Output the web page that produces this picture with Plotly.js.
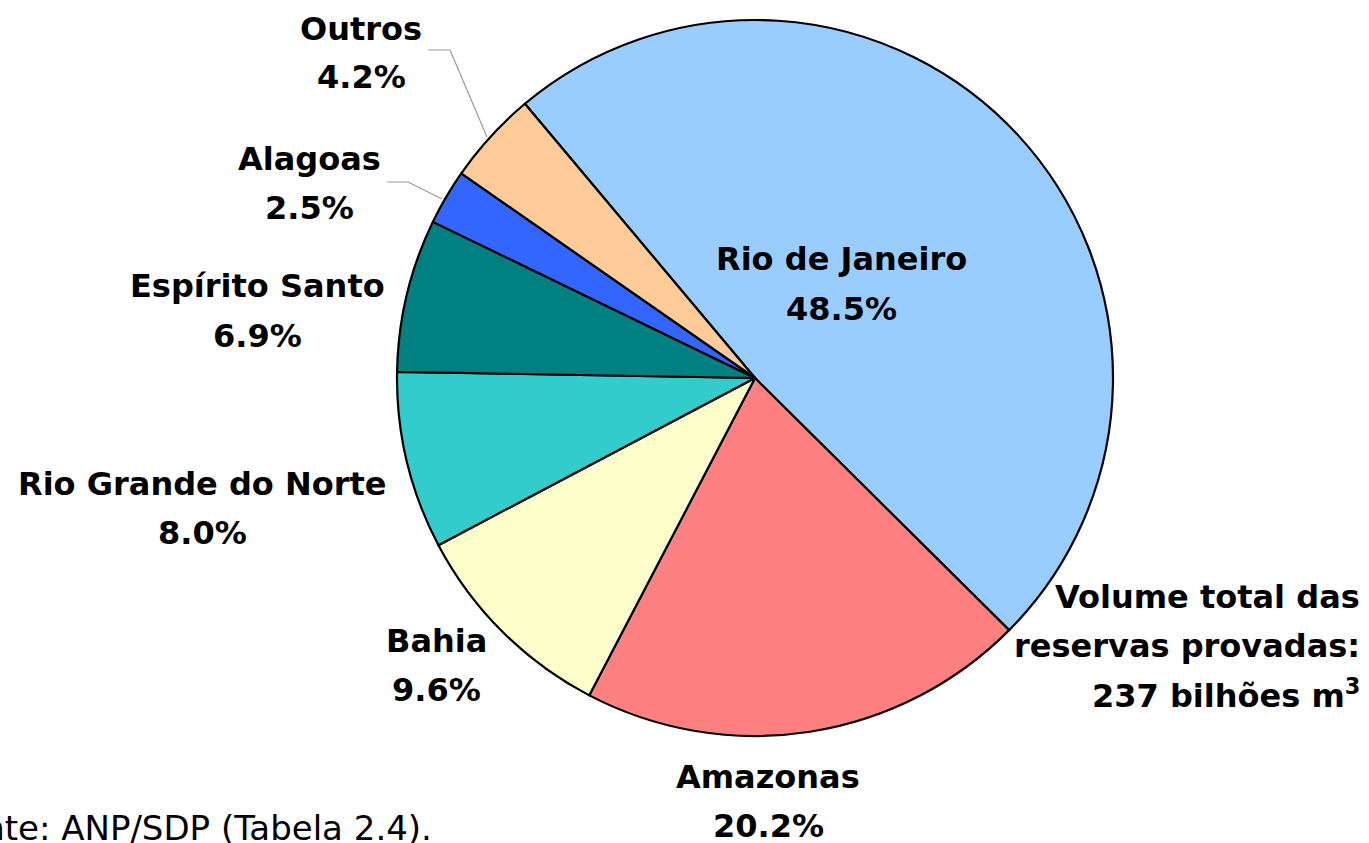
<!DOCTYPE html>
<html><head><meta charset="utf-8">
<script src="https://cdn.plot.ly/plotly-3.0.1.min.js"></script>
<style>html,body{margin:0;padding:0;background:#fff}#chart{width:1369px;height:843px}</style>
</head><body><div id="chart"></div>
<script>
const states = ["Rio de Janeiro","Amazonas","Bahia","Rio Grande do Norte","Espírito Santo","Alagoas","Outros"];
const shares = [48.5, 20.2, 9.6, 8.0, 6.9, 2.5, 4.2];
const colors = ["#99CCFF","#FF8080","#FFFFCC","#33CCCC","#008080","#3366FF","#FFCC99"];
const totalLines = ["Volume total das","reservas provadas:","237 bilhões m<sup>3</sup>"];
const sourceText = "Fonte: ANP/SDP (Tabela 2.4).";

const W = 1369, H = 843;
const px = x => x / W, py = y => 1 - y / H;
const cx = 755, cy = 378, r = 358;

// label block centres (pixels) for each slice
const labelPos = [[841,284],[768,801],[436,665],[202,508],[257,311],[309,183],[361,53]];
const FONT = "DejaVu Sans, sans-serif";
const annotations = [];
states.forEach((s,i)=>{
  const [x,y] = labelPos[i];
  annotations.push({xref:'paper',yref:'paper',x:px(x),y:py(y-24.5),text:'<b>'+s+'</b>',showarrow:false,
    xanchor:'center',yanchor:'middle',font:{family:FONT,size:32,color:'#000'}});
  annotations.push({xref:'paper',yref:'paper',x:px(x),y:py(y+24.5),text:'<b>'+shares[i].toFixed(1)+'%</b>',showarrow:false,
    xanchor:'center',yanchor:'middle',font:{family:FONT,size:32,color:'#000'}});
});
totalLines.forEach((t,i)=>{
  annotations.push({xref:'paper',yref:'paper',x:px(1362),y:py(597+i*48.5),text:'<b>'+t+'</b>',showarrow:false,
    xanchor:'right',yanchor:'middle',font:{family:FONT,size:32,color:'#000'}});
});
annotations.push({xref:'paper',yref:'paper',x:px(434),y:py(828),text:sourceText,showarrow:false,
  xanchor:'right',yanchor:'middle',font:{family:FONT,size:34,color:'#000'}});

const shapes = [
  {type:'path',xref:'paper',yref:'paper',path:`M ${px(487)} ${py(137)} L ${px(450)} ${py(50)} L ${px(428)} ${py(50)}`,line:{color:'#999',width:1.2}},
  {type:'path',xref:'paper',yref:'paper',path:`M ${px(442)} ${py(199)} L ${px(408)} ${py(182)} L ${px(387)} ${py(182)}`,line:{color:'#999',width:1.2}}
];

const data = [{
  type:'pie', labels:states, values:shares, sort:false, direction:'clockwise', rotation:-40,
  marker:{colors:colors, line:{color:'#000',width:2.2}}, textinfo:'none', hoverinfo:'label+percent',
  domain:{x:[(cx-r)/W,(cx+r)/W], y:[1-(cy+r)/H, 1-(cy-r)/H]}, showlegend:false
}];
const layout = {width:W,height:H,margin:{l:0,r:0,t:0,b:0},paper_bgcolor:'#fff',annotations,shapes,showlegend:false};
Plotly.newPlot('chart',data,layout,{displayModeBar:false,staticPlot:true});
</script></body></html>
